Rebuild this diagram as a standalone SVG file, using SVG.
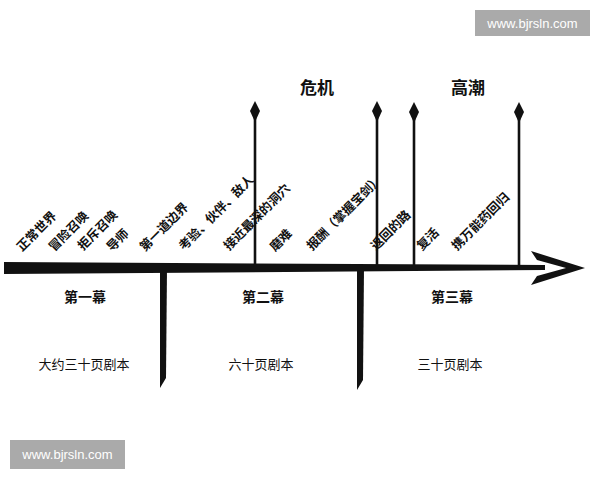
<svg xmlns="http://www.w3.org/2000/svg" width="600" height="480" viewBox="0 0 600 480">
<style>
.ink{fill:#111;stroke:none}
.stem{stroke:#111;stroke-width:2.6;fill:none}
.diag{font-family:"Noto Sans CJK SC","Noto Sans",sans-serif;font-size:12.5px;font-weight:bold;fill:#111}
.act{font-family:"Noto Sans CJK SC","Noto Sans",sans-serif;font-size:14px;font-weight:bold;fill:#111;text-anchor:middle}
.pages{font-family:"Noto Sans CJK SC","Noto Sans",sans-serif;font-size:13px;fill:#111;text-anchor:middle}
.peak{font-family:"Noto Sans CJK SC","Noto Sans",sans-serif;font-size:17px;font-weight:bold;fill:#111;text-anchor:middle}
.wm{fill:#aaaaaa}
.wmt{font-family:"Liberation Sans",Arial,sans-serif;font-size:13px;fill:#ffffff;text-anchor:middle}
</style>
<rect width="600" height="480" fill="#ffffff"/>
<g id="connectors">
  <path class="ink" d="M4,262 L545,265 L545,270 L4,274 Z"/>
  <path class="ink" d="M531,251 L585,268 L531,285 L537,276 L566,268 L537,260 Z"/>
  <path class="ink" d="M160,268 L167,268 L166,378 L160,388 Z"/>
  <path class="ink" d="M357,268 L364,268 L363,380 L357,390 Z"/>
  <g id="peak-lines">
    <line class="stem" x1="255" y1="112" x2="255" y2="267"/>
    <path class="ink" d="M255,101 L260,111 L255,122 L250,111 Z"/>
    <line class="stem" x1="377" y1="112" x2="377" y2="267"/>
    <path class="ink" d="M377,101 L382,111 L377,122 L372,111 Z"/>
    <line class="stem" x1="414" y1="112" x2="414" y2="267"/>
    <path class="ink" d="M414,102 L419,112 L414,123 L409,112 Z"/>
    <line class="stem" x1="519" y1="112" x2="519" y2="267"/>
    <path class="ink" d="M519,102 L524,112 L519,123 L514,112 Z"/>
  </g>
</g>
<g id="peaks">
  <text class="peak" x="317" y="94">危机</text>
  <text class="peak" x="468" y="94">高潮</text>
</g>
<g id="stages">
  <text class="diag" x="22" y="252" transform="rotate(-45 22 252)">正常世界</text>
  <text class="diag" x="54" y="252" transform="rotate(-45 54 252)">冒险召唤</text>
  <text class="diag" x="83" y="251" transform="rotate(-45 83 251)">拒斥召唤</text>
  <text class="diag" x="112" y="252" transform="rotate(-45 112 252)">导师</text>
  <text class="diag" x="145" y="252" transform="rotate(-45 145 252)">第一道边界</text>
  <text class="diag" x="184" y="251" transform="rotate(-45 184 251)">考验、伙伴、敌人</text>
  <text class="diag" x="229" y="251" transform="rotate(-45 229 251)">接近最深的洞穴</text>
  <text class="diag" x="275" y="252" transform="rotate(-45 275 252)">磨难</text>
  <text class="diag" x="312" y="251" transform="rotate(-45 312 251)">报酬（掌握宝剑）</text>
  <text class="diag" x="376" y="251" transform="rotate(-45 376 251)">返回的路</text>
  <text class="diag" x="422" y="251" transform="rotate(-45 422 251)">复活</text>
  <text class="diag" x="457" y="251" transform="rotate(-45 457 251)">携万能药回归</text>
</g>
<g id="acts">
  <text class="act" x="85" y="302">第一幕</text>
  <text class="act" x="263" y="302">第二幕</text>
  <text class="act" x="452" y="302">第三幕</text>
</g>
<g id="pages">
  <text class="pages" x="84" y="369">大约三十页剧本</text>
  <text class="pages" x="261" y="369">六十页剧本</text>
  <text class="pages" x="450" y="369">三十页剧本</text>
</g>
<g id="watermark-top">
  <rect class="wm" x="475" y="10" width="115" height="26"/>
  <text class="wmt" x="532.5" y="27.5">www.bjrsln.com</text>
</g>
<g id="watermark-bottom">
  <rect class="wm" x="10" y="440" width="115" height="29"/>
  <text class="wmt" x="67.5" y="459">www.bjrsln.com</text>
</g>
</svg>
